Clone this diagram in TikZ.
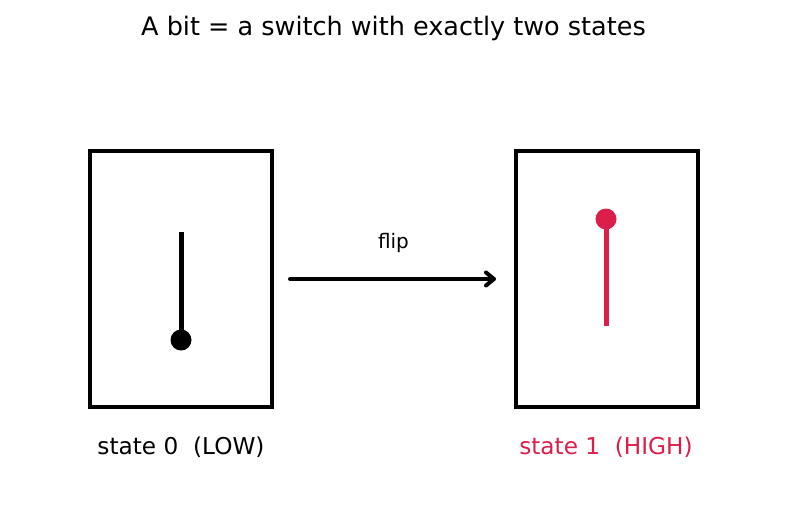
\documentclass[tikz,border=0pt]{standalone}
\usepackage{fontspec}
\setmainfont{DejaVu Sans}
\usetikzlibrary{arrows.meta}
\definecolor{hi}{HTML}{DC1E4A}
\tikzset{
  box/.style={draw=black, line width=4pt, minimum width=182pt, minimum height=256pt, inner sep=0pt},
  lever/.style={line width=5pt},
  knob/.style={circle, inner sep=0pt, minimum size=21pt},
  lbl/.style={font=\fontsize{23.2pt}{27pt}\selectfont, anchor=center},
}
\begin{document}
\begin{tikzpicture}[x=1pt,y=-1pt]
\useasboundingbox (0,0) rectangle (787,512);
\node[font=\fontsize{25.5pt}{30pt}\selectfont] (title) at (393.5,28) {A bit = a switch with exactly two states};
\node[box] (b0) at (181,279) {};
\node[box] (b1) at (606.5,279) {};
\coordinate (t0) at (181,232);
\node[knob, fill=black] (k0) at (181,340) {};
\draw[lever, black] (t0) -- (k0.center);
\coordinate (t1) at (606,326);
\node[knob, fill=hi] (k1) at (606,219) {};
\draw[lever, hi] (t1) -- (k1.center);
\coordinate (a0) at (290,279);
\coordinate (a1) at (496,279);
\draw[line width=4pt, line cap=round, -{Straight Barb[length=8pt,width=13pt,line cap=round,line join=round]}] (a0) -- (a1);
\node[font=\fontsize{20pt}{24pt}\selectfont] (flip) at (393.5,243) {flip};
\node[lbl] (l0) at (181,447) {state 0\ \ (LOW)};
\node[lbl, text=hi] (l1) at (606,447) {state 1\ \ (HIGH)};
\end{tikzpicture}
\end{document}
